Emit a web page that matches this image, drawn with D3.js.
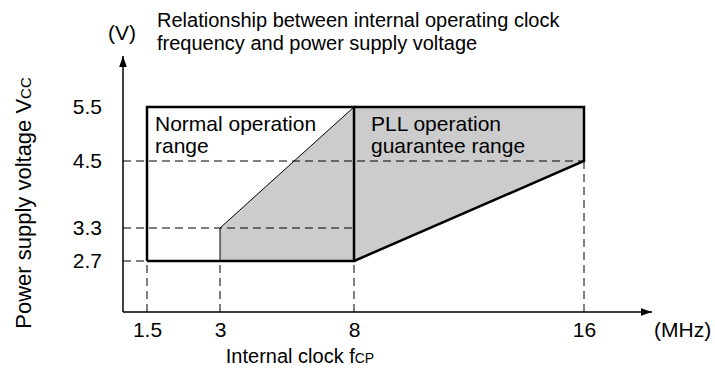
<!DOCTYPE html>
<html>
<head>
<meta charset="utf-8">
<script src="https://cdn.jsdelivr.net/npm/d3@7"></script>
<style>
  body { margin: 0; background: #fff; }
  svg { display: block; font-family: "Liberation Sans", Arial, sans-serif; }
  .tick text { font-size: 21px; fill: #000; }
  .dash { stroke: #000; stroke-width: 1; stroke-dasharray: 8,5; fill: none; }
</style>
</head>
<body>
<script>
var width = 715,
    height = 372;

// data
var freqTicks = [1.5, 3, 8, 16];          // MHz
var voltTicks = [2.7, 3.3, 4.5, 5.5];     // V
var normalRange = [[1.5, 2.7], [1.5, 5.5], [8, 5.5], [8, 2.7]];
var pllRange = [[3, 2.7], [3, 3.3], [8, 5.5], [16, 5.5], [16, 4.5], [8, 2.7]];
var titleLines = ["Relationship between internal operating clock",
                  "frequency and power supply voltage"];

// the axes are not to scale in the original, so piecewise scales
var x = d3.scaleLinear()
    .domain([0, 1.5, 3, 8, 16, 18.4])
    .range([123, 147, 220, 354, 584, 652]);
var y = d3.scaleLinear()
    .domain([1.8, 2.7, 3.3, 4.5, 5.5, 7.3])
    .range([312, 261, 228, 161, 107, 56]);

var svg = d3.select("body").append("svg")
    .attr("width", width)
    .attr("height", height);

var defs = svg.append("defs");
defs.append("marker")
    .attr("id", "arrow")
    .attr("viewBox", "0 0 10 10")
    .attr("refX", 10).attr("refY", 5)
    .attr("markerWidth", 11).attr("markerHeight", 11)
    .attr("markerUnits", "userSpaceOnUse")
    .attr("orient", "auto")
  .append("path")
    .attr("d", "M0,1.5L10,5L0,8.5Z")
    .attr("fill", "#000");

var line = d3.line()
    .x(function(d) { return x(d[0]); })
    .y(function(d) { return y(d[1]); });

// shaded PLL area
svg.append("path")
    .datum(pllRange)
    .attr("d", line.curve(d3.curveLinearClosed))
    .attr("fill", "#cccccc")
    .attr("stroke", "none");
line.curve(d3.curveLinear);

// dashed guides
var hGuides = [[2.7, 1.5], [3.3, 8], [4.5, 16]];
svg.selectAll(".hg")
  .data(hGuides)
  .enter().append("line")
    .attr("class", "dash")
    .attr("x1", x(0)).attr("x2", function(d) { return x(d[1]); })
    .attr("y1", function(d) { return y(d[0]); })
    .attr("y2", function(d) { return y(d[0]); });

var vGuides = [[1.5, 2.7], [3, 2.7], [8, 5.5], [16, 4.5]];
svg.selectAll(".vg")
  .data(vGuides)
  .enter().append("line")
    .attr("class", "dash")
    .attr("x1", function(d) { return x(d[0]); })
    .attr("x2", function(d) { return x(d[0]); })
    .attr("y1", y(1.8))
    .attr("y2", function(d) { return y(d[1]); });

// thin edge of the PLL area on the left
svg.append("path")
    .datum([[3, 2.7], [3, 3.3], [8, 5.5]])
    .attr("d", line)
    .attr("fill", "none")
    .attr("stroke", "#000")
    .attr("stroke-width", 1);

// thick outlines
svg.append("path")
    .datum(normalRange.concat([normalRange[0]]))
    .attr("d", line)
    .attr("fill", "none")
    .attr("stroke", "#000")
    .attr("stroke-width", 2.5);

svg.append("path")
    .datum([[8, 5.5], [16, 5.5], [16, 4.5], [8, 2.7]])
    .attr("d", line)
    .attr("fill", "none")
    .attr("stroke", "#000")
    .attr("stroke-width", 2.5)
    .attr("stroke-linejoin", "miter");

// axes lines with arrows
svg.append("line")
    .attr("x1", x(0)).attr("y1", y(1.8))
    .attr("x2", x(18.4)).attr("y2", y(1.8))
    .attr("stroke", "#000").attr("stroke-width", 1.5)
    .attr("marker-end", "url(#arrow)");
svg.append("line")
    .attr("x1", x(0)).attr("y1", y(1.8))
    .attr("x2", x(0)).attr("y2", y(7.3))
    .attr("stroke", "#000").attr("stroke-width", 1.5)
    .attr("marker-end", "url(#arrow)");

// tick labels
var xAxis = svg.append("g")
    .attr("transform", "translate(0," + y(1.8) + ")")
    .call(d3.axisBottom(x).tickValues(freqTicks).tickSize(0).tickPadding(10)
      .tickFormat(function(d) { return String(d); }));
xAxis.select(".domain").remove();
xAxis.selectAll("text").attr("font-family", null).attr("font-size", null);

var yAxis = svg.append("g")
    .attr("transform", "translate(" + x(0) + ",0)")
    .call(d3.axisLeft(y).tickValues(voltTicks).tickSize(0).tickPadding(21)
      .tickFormat(d3.format(".1f")));
yAxis.select(".domain").remove();
yAxis.selectAll("text").attr("font-family", null).attr("font-size", null);

// unit labels
svg.append("text")
    .attr("x", x(0) - 1).attr("y", 40)
    .attr("text-anchor", "middle")
    .attr("font-size", 21)
    .text("(V)");
svg.append("text")
    .attr("x", 654).attr("y", 337)
    .attr("font-size", 21)
    .text("(MHz)");

// title
svg.append("text")
    .attr("font-size", 20)
  .selectAll("tspan")
  .data(titleLines)
  .enter().append("tspan")
    .attr("x", 157)
    .attr("y", function(d, i) { return 27 + i * 23; })
    .text(function(d) { return d; });

// region labels
var regionLabels = [
  { x: 155, lines: ["Normal operation", "range"] },
  { x: 371, lines: ["PLL operation", "guarantee range"] }
];
svg.selectAll(".region")
  .data(regionLabels)
  .enter().append("text")
    .attr("font-size", 21)
  .selectAll("tspan")
  .data(function(d) { return d.lines.map(function(l) { return { x: d.x, t: l }; }); })
  .enter().append("tspan")
    .attr("x", function(d) { return d.x; })
    .attr("y", function(d, i) { return 131 + i * 22; })
    .text(function(d) { return d.t; });

// axis titles with small subscripts
var xt = svg.append("text")
    .attr("x", 300).attr("y", 363)
    .attr("text-anchor", "middle")
    .attr("font-size", 20);
xt.append("tspan").text("Internal clock f");
xt.append("tspan").attr("font-size", 14).text("CP");

var yt = svg.append("text")
    .attr("transform", "translate(31,203) rotate(-90)")
    .attr("text-anchor", "middle")
    .attr("font-size", 22);
yt.append("tspan").text("Power supply voltage V");
yt.append("tspan").attr("font-size", 15).text("CC");
</script>
</body>
</html>
